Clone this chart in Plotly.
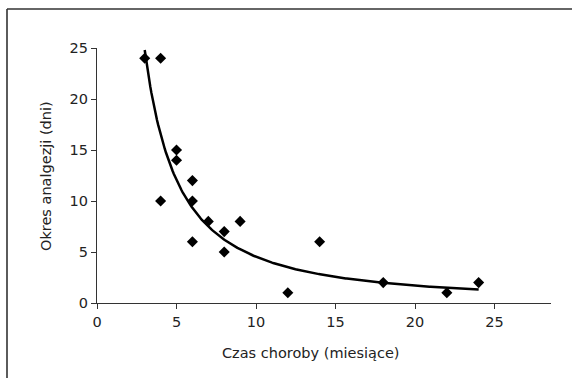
import numpy as np
import plotly.graph_objects as go

# Data
czas_choroby = [3, 4, 4, 5, 5, 6, 6, 6, 7, 8, 8, 9, 12, 14, 18, 22, 24]
okres_analgezji = [24, 24, 10, 15, 14, 12, 10, 6, 8, 7, 5, 8, 1, 6, 2, 1, 2]
x_ticks = [0, 5, 10, 15, 20, 25]
y_ticks = [0, 5, 10, 15, 20, 25]

# Power trendline (least squares on log-log), as in a spreadsheet trendline
lx = np.log(czas_choroby)
ly = np.log(okres_analgezji)
b, ln_a = np.polyfit(lx, ly, 1)
xs = np.linspace(min(czas_choroby), max(czas_choroby), 300)
ys = np.exp(ln_a) * xs ** b

W, H = 572, 378
L, R, T, B = 97, 21, 48, 75
pw, ph = W - L - R, H - T - B

fig = go.Figure()
fig.add_trace(go.Scatter(x=xs, y=ys, mode="lines",
                         line=dict(color="#000000", width=2.5),
                         hoverinfo="skip", showlegend=False))
fig.add_trace(go.Scatter(x=czas_choroby, y=okres_analgezji, mode="markers",
                         marker=dict(symbol="diamond", size=8.5, color="#000000"),
                         cliponaxis=False, showlegend=False))

font = dict(family="DejaVu Sans, sans-serif", size=14.5, color="#222222")

fig.update_layout(
    width=W, height=H,
    margin=dict(l=L, r=R, t=T, b=B, autoexpand=False),
    paper_bgcolor="white", plot_bgcolor="white",
    font=font,
    xaxis=dict(range=[0, 28.55], tickvals=x_ticks, ticks="outside", ticklen=5,
               tickcolor="#333333", showline=True, linecolor="#333333", linewidth=1.3,
               showgrid=False, zeroline=False, tickfont=font, automargin=False),
    yaxis=dict(range=[0, 25], tickvals=y_ticks, ticks="outside", ticklen=5,
               tickcolor="#333333", showline=True, linecolor="#333333", linewidth=1.3,
               showgrid=False, zeroline=False, tickfont=font, automargin=False),
)

fig.add_annotation(text="Czas choroby (miesiące)", xref="paper", yref="paper",
                   x=(310 - L) / pw, y=(H - B - 353) / ph, showarrow=False,
                   xanchor="center", yanchor="middle", font=font)
fig.add_annotation(text="Okres analgezji (dni)", xref="paper", yref="paper",
                   x=(46 - L) / pw, y=(H - B - 176) / ph, showarrow=False,
                   xanchor="center", yanchor="middle", textangle=-90, font=font)

# outer frame (left and top edges visible, others outside the image)
fx0 = (7 - L) / pw
fy1 = (H - B - 9) / ph
fig.add_shape(type="line", xref="paper", yref="paper", x0=fx0, x1=fx0, y0=fy1, y1=-0.5,
              line=dict(color="#333333", width=1.6))
fig.add_shape(type="line", xref="paper", yref="paper", x0=fx0, x1=1.3, y0=fy1, y1=fy1,
              line=dict(color="#333333", width=1.6))

fig.write_html("out.html", config={"displayModeBar": False},
               post_script="document.body.style.margin='0';document.body.style.overflow='hidden';")
